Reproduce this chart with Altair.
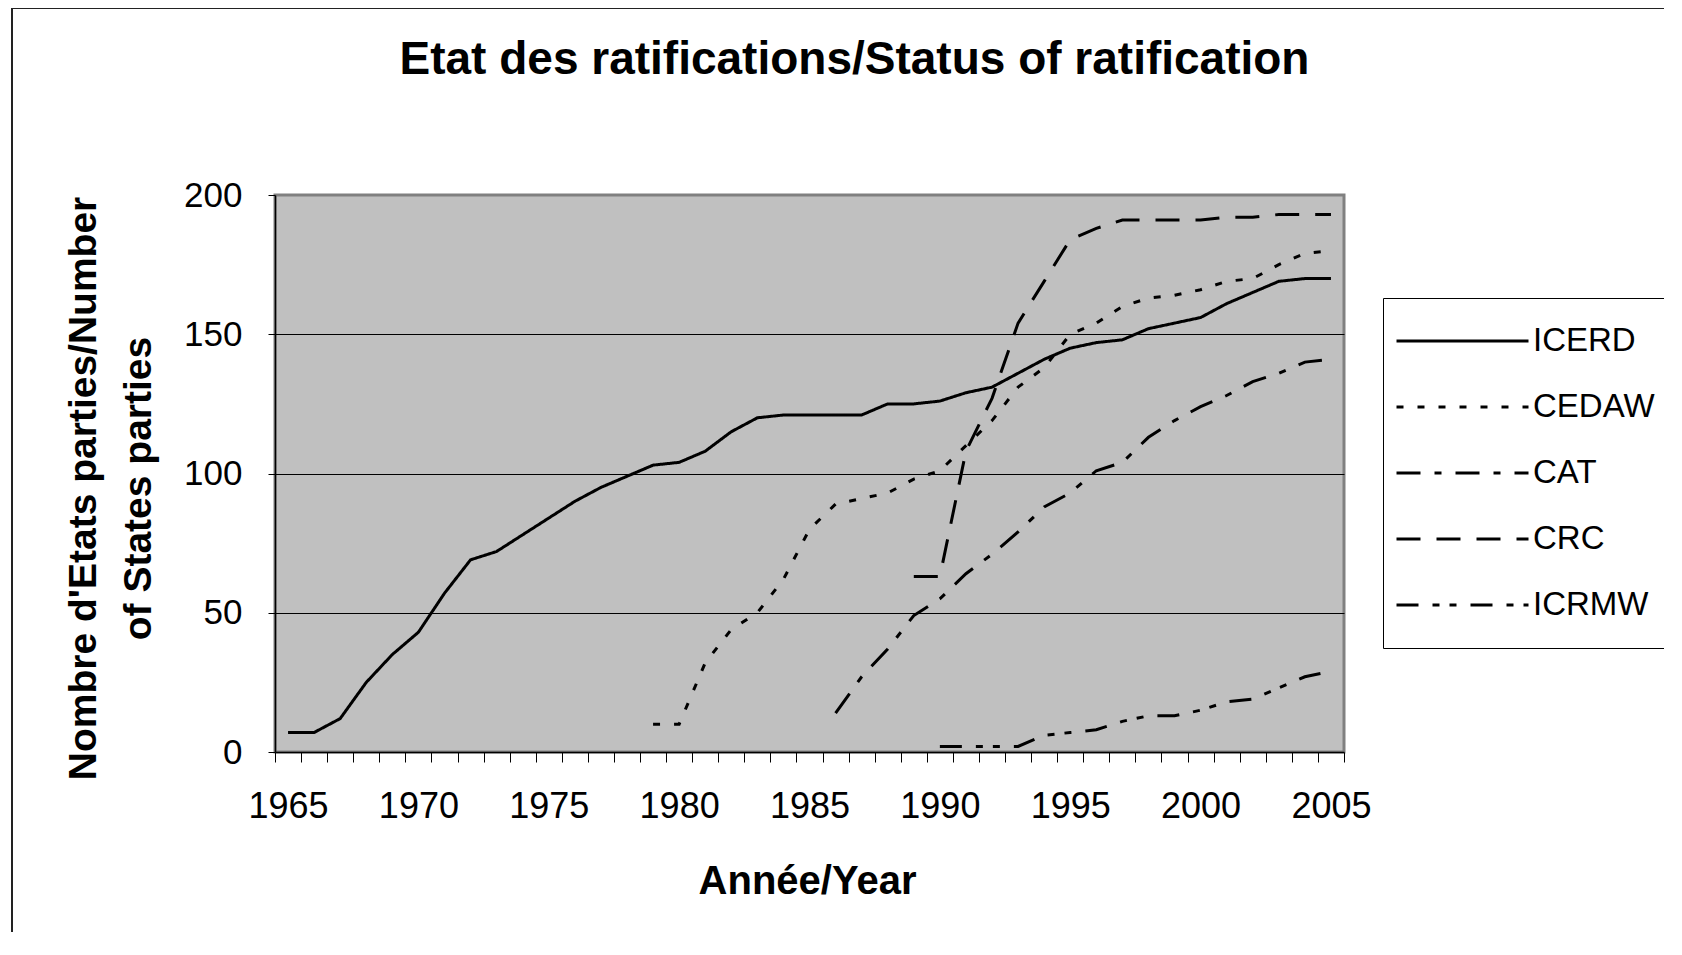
import altair as alt
import pandas as pd

# ---- data ----
series_names = ["ICERD", "CEDAW", "CAT", "CRC", "ICRMW"]

icerd_years = list(range(1965, 2006))
icerd = [7, 7, 12, 25, 35, 43, 57, 69, 72, 78,
         84, 90, 95, 99, 103, 104, 108, 115, 120, 121,
         121, 121, 121, 125, 125, 126, 129, 131, 136, 141,
         145, 147, 148, 152, 154, 156, 161, 165, 169, 170,
         170]

cedaw_years = list(range(1979, 2006))
cedaw = [10, 10, 32, 44, 50, 62, 80, 89, 91, 93,
         98, 101, 110, 119, 131, 138, 150, 154, 160, 163,
         164, 166, 169, 170, 175, 179, 180]

cat_years = list(range(1986, 2006))
cat = [14, 27, 37, 49, 55, 64, 71, 79, 88, 93,
       101, 104, 113, 119, 124, 128, 133, 136, 140, 141]

crc_years = list(range(1989, 2006))
crc = [63, 63, 108, 127, 154, 169, 184, 188, 191, 191,
       191, 191, 192, 192, 193, 193, 193]

icrmw_years = list(range(1990, 2006))
icrmw = [2, 2, 2, 2, 6, 7, 8, 11, 13, 13,
         15, 18, 19, 23, 27, 29]

y_ticks = [0, 50, 100, 150, 200]
all_years = list(range(1965, 2006))

# ---- styling ----
FONT = "Liberation Sans"
dash_patterns = [[1, 0], [7, 14], [24, 14, 7, 14], [24, 16], [22, 14, 7, 10, 7, 14]]

rows = []
for name, ys, vs in [("ICERD", icerd_years, icerd), ("CEDAW", cedaw_years, cedaw),
                     ("CAT", cat_years, cat), ("CRC", crc_years, crc),
                     ("ICRMW", icrmw_years, icrmw)]:
    for yr, v in zip(ys, vs):
        rows.append({"year": yr, "value": v, "series": name})
df = pd.DataFrame(rows)

PW, PH = 1069, 557

lines = alt.Chart(df).mark_line(strokeWidth=3, color="black", strokeCap="butt").encode(
    x=alt.X("year:O",
            scale=alt.Scale(type="band", domain=all_years, paddingInner=0, paddingOuter=0),
            axis=alt.Axis(labelExpr="datum.value % 5 === 0 ? datum.label : ''",
                          labelAngle=0, labelFlush=False, labelOverlap=False,
                          tickBand="extent",
                          labelFont=FONT, labelFontSize=36, labelColor="black", labelPadding=27,
                          tickSize=10, tickColor="black", tickWidth=1,
                          domainColor="black", domainWidth=1.5, grid=False,
                          titleFont=FONT, titleFontSize=40, titleFontWeight="bold", titleColor="black",
                          titleX=532, titleY=141, titleAlign="center", titleBaseline="alphabetic"),
            title="Année/Year"),
    y=alt.Y("value:Q",
            scale=alt.Scale(domain=[0, 200], nice=False),
            axis=alt.Axis(values=y_ticks, format="d",
                          labelFont=FONT, labelFontSize=35, labelColor="black", labelPadding=26,
                          tickSize=7, tickColor="black", tickWidth=1,
                          domainColor="black", domainWidth=1.5,
                          grid=True, gridColor="black", gridWidth=1,
                          gridOpacity=alt.condition("datum.value === 0 || datum.value === 200",
                                                    alt.value(0), alt.value(1)),
                          titleFont=FONT, titleFontSize=39, titleFontWeight="bold", titleColor="black",
                          titleAngle=270, titleX=-192, titleY=293, titleAlign="center",
                          titleBaseline="middle", titleLineHeight=55),
            title=["Nombre d'Etats parties/Number", "of States parties"]),
    strokeDash=alt.StrokeDash("series:N",
                              scale=alt.Scale(domain=series_names, range=dash_patterns),
                              legend=alt.Legend(orient="none", legendX=1108, legendY=103, title=None,
                                                symbolType="stroke", symbolSize=17424,
                                                symbolStrokeWidth=3, symbolStrokeColor="black",
                                                clipHeight=62, rowPadding=4, padding=12,
                                                labelFont=FONT, labelFontSize=33, labelColor="black",
                                                labelOffset=3, labelLimit=400,
                                                strokeColor="black", fillColor="white")),
)

frame_df = pd.DataFrame({"k": [0]})
frame_left = alt.Chart(frame_df).mark_rule(color="#222222", strokeWidth=2).encode(
    x=alt.value(-263), y=alt.value(-187), y2=alt.value(800))
frame_top = alt.Chart(frame_df).mark_rule(color="#222222", strokeWidth=2).encode(
    x=alt.value(-263), x2=alt.value(1450), y=alt.value(-187))

chart = alt.layer(frame_left, frame_top, lines).properties(
    width=PW, height=PH,
    autosize=alt.AutoSizeParams(type="none"),
    padding={"left": 267, "top": 187, "right": 320, "bottom": 180},
    title=alt.TitleParams(text="Etat des ratifications/Status of ratification",
                          font=FONT, fontSize=46, fontWeight="bold", color="black",
                          anchor="middle", frame="group", dx=45, dy=77, offset=0),
).configure_view(fill="#c0c0c0", stroke="#808080", strokeWidth=3)

chart.save("out.html", embed_options={"renderer": "svg", "actions": False})
